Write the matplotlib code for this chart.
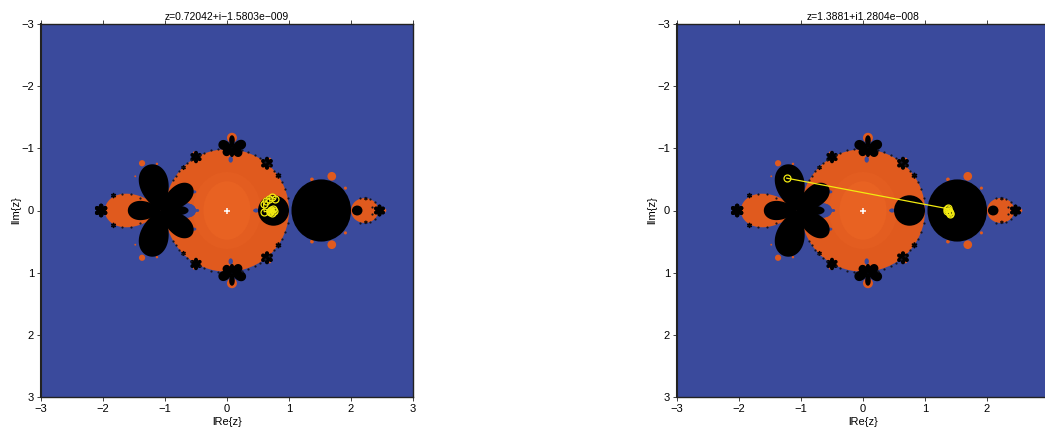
import numpy as np
import matplotlib
matplotlib.use('Agg')
import matplotlib.pyplot as plt
from matplotlib.patches import Ellipse, Polygon

plt.rcParams['font.family'] = ['Liberation Sans', 'DejaVu Sans']

titles = ['z=0.72042+i\u22121.5803e\u2212009', 'z=1.3881+i1.2804e\u2212008']
ticks = [-3, -2, -1, 0, 1, 2, 3]

# orbits
orbit_left_x = [0.77, 0.73, 0.67, 0.63, 0.59, 0.60, 0.70, 0.74, 0.72, 0.69, 0.75, 0.71]
orbit_left_y = [-0.19, -0.21, -0.19, -0.15, -0.10, 0.02, 0.0, -0.03, 0.04, 0.03, 0.01, -0.01]
orbit_right_x = [-1.23, 1.36, 1.39, 1.41, 1.38, 1.37, 1.40, 1.36]
orbit_right_y = [-0.52, -0.03, 0.02, 0.06, 0.0, -0.04, 0.04, 0.01]

# (x, y, rx, ry) discs on the real axis
black_discs = [(1.52, 0, 0.48, 0.50), (0.75, 0, 0.25, 0.245), (2.10, 0, 0.085, 0.08)]
orange_discs = [(0, 0, 1.0, 0.985), (2.22, 0, 0.22, 0.20), (2.54, 0, 0.03, 0.03), (-2.07, 0, 0.03, 0.03)]
inner_x = [0.0, 0.0]
inner_ry = [0.62, 0.47]
inner_rx = [0.55, 0.38]
inner_colors = ['#E35D20', '#E86222']

# (angle, length, width) petals of the big flower, base at x=-1.07
big_base = -1.07
big_petals = [(-104, 0.76, 0.47), (104, 0.76, 0.47), (180, 0.53, 0.31),
              (-38, 0.64, 0.34), (38, 0.64, 0.34), (0, 0.45, 0.15)]
# blue pockets (x, |y|, rx, ry)
blue_pockets = [(-0.65, 0, 0.15, 0.115), (0.47, 0, 0.045, 0.03), (0.06, 0.82, 0.035, 0.05),
                (-0.53, 0.30, 0.035, 0.025), (-0.48, 0.0, 0.03, 0.02)]

# small flowers above the axis, mirrored below (x, |y|, size)
flowers = [(-0.50, 0.86, 0.10), (0.645, 0.76, 0.105), (0.83, 0.56, 0.05), (-0.70, 0.69, 0.04),
           (-2.03, 0.0, 0.11), (2.46, 0.0, 0.095), (-1.83, 0.24, 0.045), (2.24, 0.19, 0.03)]

# top flower made of petals, base at (0.08, -1.0)
top_base_x = 0.08
top_base_y = 1.0
top_petals = [(90, 0.21, 0.09), (22, 0.24, 0.16), (158, 0.23, 0.16),
              (-35, 0.19, 0.14), (-145, 0.17, 0.13), (-90, 0.14, 0.07)]

# orange balls (x, |y|, r)
balls = [(0.08, 1.17, 0.08), (1.69, 0.55, 0.07), (1.37, 0.50, 0.03), (1.91, 0.36, 0.025),
         (-1.37, 0.76, 0.05), (-1.13, 0.75, 0.02), (-1.48, 0.55, 0.015), (-0.53, 0.93, 0.02),
         (0.69, 0.83, 0.02)]

# black dots on the rim of the main disc, angle in degrees
rim_angles = [12, 20, 27, 40, 47, 52, 58, 63, 70, 76, 98, 105, 112, 116, 125, 130, 136, 141, 146, 151]
lobe_dots_x = [-1.70, -1.55, -1.40, 2.15, 2.30, 2.39, 2.34]
lobe_dots_y = [0.27, 0.26, 0.20, 0.20, 0.19, 0.14, 0.05]


def petal(x, y, angle, length, width, color, z):
    t = np.linspace(0, 2 * np.pi, 80)
    px = length * (1 - np.cos(t)) / 2
    bulge = np.sin(t) * np.abs(np.sin(t / 2)) ** 0.6
    py = width / 2 * bulge / bulge.max()
    a = np.radians(angle)
    xs = x + px * np.cos(a) - py * np.sin(a)
    ys = y + px * np.sin(a) + py * np.cos(a)
    return Polygon(np.column_stack([xs, ys]), closed=True, fc=color, ec='none', zorder=z)


def draw_fractal(ax):
    ax.set_facecolor('#3A4A9C')
    orange = '#E05A1E'
    ax.add_patch(petal(big_base, 0, 180, 0.90, 0.54, orange, 1))
    for x, y, rx, ry in orange_discs:
        ax.add_patch(Ellipse((x, y), 2 * rx, 2 * ry, fc=orange, ec='none', zorder=1))
    for x, rx, ry, c in zip(inner_x, inner_rx, inner_ry, inner_colors):
        ax.add_patch(Ellipse((x, 0), 2 * rx, 2 * ry, fc=c, ec='none', zorder=1.5))
    for sign in [1, -1]:
        for x, y, r in balls:
            ax.add_patch(Ellipse((x, sign * y), 2 * r, 2 * r, fc=orange, ec='none', zorder=1))
        for x, y, rx, ry in blue_pockets:
            ax.add_patch(Ellipse((x, sign * y), 2 * rx, 2 * ry, fc='#3A4A9C', ec='none', zorder=2))
        for x, y, s in flowers:
            for a in range(0, 360, 60):
                ax.add_patch(petal(x, sign * y, a + 30, s, s * 0.65, 'black', 3))
        for a, l, w in top_petals:
            ax.add_patch(petal(top_base_x, -sign * top_base_y, -a * sign, l, w, 'black', 3))
    for x, y, rx, ry in black_discs:
        ax.add_patch(Ellipse((x, y), 2 * rx, 2 * ry, fc='black', ec='none', zorder=3))
    for a, l, w in big_petals:
        ax.add_patch(petal(big_base, 0, a, l, w, 'black', 3))
    rim = np.radians(rim_angles)
    for sign in [1, -1]:
        ax.scatter(np.cos(rim), sign * np.sin(rim), s=2.5, c='#15151f', lw=0, zorder=3)
        ax.scatter(lobe_dots_x, sign * np.array(lobe_dots_y), s=2.5, c='#15151f', lw=0, zorder=3)
    ax.plot([0], [0], '+', color='white', ms=4, mew=1.1, zorder=4)


fig = plt.figure(figsize=(10.45, 4.30), dpi=100)
lefts = [41 / 1045, 677 / 1045]
orbits = [(orbit_left_x, orbit_left_y), (orbit_right_x, orbit_right_y)]

for i in range(2):
    ax = fig.add_axes([lefts[i], 33 / 430, 372 / 1045, 373 / 430])
    draw_fractal(ax)
    ax.plot(orbits[i][0], orbits[i][1], '-o', color='#F2EA10', lw=0.9, ms=5, mfc='none', mew=0.9, zorder=5)
    ax.set_xlim(-3, 3)
    ax.set_ylim(3, -3)
    ax.set_xticks(ticks)
    ax.set_yticks(ticks)
    if i == 1:
        # the last label falls off the right edge of the figure
        ax.set_xticklabels(['\u22123', '\u22122', '\u22121', '0', '1', '2', ''])
    ax.xaxis.set_ticks_position('both')
    ax.tick_params(length=3, width=0.6, labelsize=8, pad=2, color='#222222')
    ax.set_xlabel('lRe{z}', fontsize=8, labelpad=2)
    ax.set_ylabel('lIm{z}', fontsize=8, labelpad=0)
    ax.set_title(titles[i], fontsize=7.5, pad=3)
    for s in ax.spines.values():
        s.set_linewidth(1.0)
        s.set_color('#222222')
    ax.spines['left'].set_linewidth(1.5)

fig.savefig('out.png', dpi=100)
